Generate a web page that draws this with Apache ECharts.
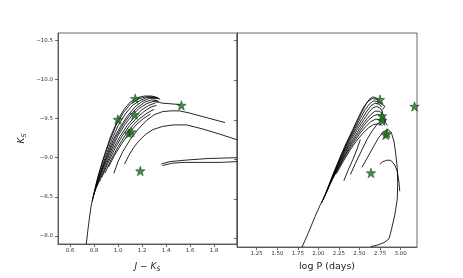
<!DOCTYPE html>
<html>
<head>
<meta charset="utf-8">
<script src="https://cdn.jsdelivr.net/npm/echarts@6/dist/echarts.min.js"></script>
<style>
html,body{margin:0;padding:0;background:#fff;}
#chart{width:463px;height:278px;}
</style>
</head>
<body>
<div id="chart"></div>
<script>
// ---- Data: evolutionary tracks in colour (J-Ks vs Ks) ----
const colourTracks = [
  [[0.735,-7.89],[0.755,-8.15],[0.775,-8.38],[0.80,-8.55],[0.84,-8.8],[0.89,-9.05],[0.94,-9.28],[1.00,-9.49],[1.05,-9.62],[1.10,-9.71],[1.16,-9.77],[1.22,-9.79],[1.28,-9.79],[1.33,-9.77]],
  [[0.785,-8.44],[0.825,-8.71],[0.875,-8.97],[0.93,-9.21],[0.985,-9.42],[1.045,-9.58],[1.105,-9.69],[1.165,-9.75],[1.23,-9.78],[1.29,-9.78],[1.34,-9.76]],
  [[0.79,-8.48],[0.835,-8.73],[0.89,-8.99],[0.945,-9.22],[1.0,-9.41],[1.06,-9.56],[1.12,-9.67],[1.18,-9.73],[1.24,-9.77],[1.30,-9.77],[1.35,-9.75]],
  [[0.80,-8.53],[0.85,-8.78],[0.905,-9.02],[0.96,-9.23],[1.02,-9.4],[1.08,-9.54],[1.14,-9.65],[1.20,-9.72],[1.26,-9.76],[1.32,-9.76]],
  [[0.81,-8.58],[0.86,-8.82],[0.92,-9.05],[0.98,-9.26],[1.04,-9.42],[1.10,-9.55],[1.16,-9.64],[1.22,-9.71],[1.28,-9.74],[1.33,-9.73]],
  [[0.825,-8.63],[0.875,-8.85],[0.935,-9.07],[0.995,-9.27],[1.055,-9.42],[1.115,-9.54],[1.175,-9.63],[1.235,-9.69],[1.29,-9.72],[1.34,-9.71]],
  [[0.845,-8.69],[0.895,-8.89],[0.955,-9.1],[1.015,-9.27],[1.075,-9.41],[1.135,-9.52],[1.195,-9.61],[1.255,-9.67],[1.31,-9.7]],
  [[0.865,-8.75],[0.915,-8.93],[0.975,-9.12],[1.035,-9.28],[1.095,-9.41],[1.155,-9.51],[1.215,-9.59],[1.275,-9.65],[1.32,-9.67]],
  [[0.89,-8.8],[0.94,-8.97],[1.0,-9.14],[1.06,-9.29],[1.12,-9.41],[1.18,-9.5],[1.24,-9.57],[1.30,-9.62]],
  [[0.92,-8.88],[0.97,-9.03],[1.03,-9.18],[1.09,-9.31],[1.15,-9.42],[1.21,-9.5],[1.27,-9.56]],
  [[1.30,-9.74],[1.36,-9.70],[1.44,-9.69],[1.52,-9.68]],
  [[0.965,-8.80],[1.0,-8.95],[1.04,-9.08],[1.10,-9.23],[1.17,-9.37],[1.24,-9.48],[1.30,-9.55],[1.37,-9.59],[1.44,-9.60],[1.51,-9.60],[1.60,-9.57],[1.72,-9.52],[1.89,-9.45]],
  [[1.054,-8.92],[1.09,-9.03],[1.13,-9.13],[1.17,-9.21],[1.23,-9.30],[1.29,-9.36],[1.37,-9.40],[1.46,-9.42],[1.57,-9.42],[1.70,-9.37],[1.85,-9.30],[1.99,-9.23]],
  [[1.36,-8.92],[1.43,-8.95],[1.57,-8.97],[1.75,-8.99],[1.99,-9.0]],
  [[1.37,-8.90],[1.45,-8.93],[1.55,-8.94],[1.70,-8.94],[1.85,-8.94],[1.99,-8.95]]
];
// ---- Data: evolutionary tracks in period (log P vs Ks) ----
const periodTracks = [
  [[1.80,-7.89],[1.88,-8.08],[1.96,-8.28],[2.02,-8.42],[2.08,-8.55],[2.15,-8.72],[2.22,-8.9],[2.30,-9.1],[2.38,-9.28],[2.46,-9.45],[2.53,-9.6],[2.58,-9.7],[2.62,-9.76],[2.66,-9.79],[2.70,-9.78],[2.74,-9.75]],
  [[2.04,-8.45],[2.11,-8.63],[2.18,-8.82],[2.26,-9.02],[2.34,-9.21],[2.42,-9.38],[2.49,-9.54],[2.55,-9.66],[2.60,-9.73],[2.655,-9.77],[2.71,-9.76],[2.75,-9.72],[2.78,-9.69]],
  [[2.06,-8.49],[2.13,-8.67],[2.20,-8.85],[2.28,-9.04],[2.36,-9.22],[2.44,-9.38],[2.51,-9.52],[2.57,-9.63],[2.62,-9.70],[2.67,-9.74],[2.72,-9.73],[2.77,-9.7],[2.81,-9.67],[2.78,-9.63]],
  [[2.08,-8.54],[2.15,-8.71],[2.22,-8.89],[2.30,-9.07],[2.38,-9.24],[2.46,-9.39],[2.53,-9.51],[2.59,-9.61],[2.64,-9.68],[2.69,-9.71],[2.74,-9.70],[2.77,-9.66]],
  [[2.10,-8.59],[2.17,-8.75],[2.24,-8.92],[2.32,-9.09],[2.40,-9.25],[2.48,-9.39],[2.55,-9.5],[2.61,-9.59],[2.66,-9.65],[2.71,-9.67],[2.76,-9.64],[2.78,-9.6],[2.76,-9.55]],
  [[2.12,-8.65],[2.19,-8.8],[2.27,-8.97],[2.35,-9.13],[2.43,-9.27],[2.51,-9.4],[2.58,-9.5],[2.64,-9.57],[2.69,-9.61],[2.74,-9.61],[2.79,-9.57],[2.82,-9.5],[2.80,-9.45]],
  [[2.15,-8.71],[2.22,-8.85],[2.30,-9.01],[2.38,-9.16],[2.46,-9.29],[2.54,-9.41],[2.61,-9.5],[2.67,-9.55],[2.72,-9.57],[2.77,-9.55],[2.80,-9.5]],
  [[2.18,-8.77],[2.26,-8.92],[2.34,-9.07],[2.42,-9.2],[2.50,-9.32],[2.57,-9.41],[2.64,-9.48],[2.70,-9.51],[2.75,-9.5],[2.79,-9.46]],
  [[2.22,-8.82],[2.30,-8.97],[2.38,-9.11],[2.46,-9.23],[2.54,-9.33],[2.61,-9.4],[2.67,-9.44],[2.73,-9.45],[2.78,-9.43]],
  [[2.31,-8.73],[2.36,-8.86],[2.42,-9.0],[2.47,-9.13],[2.51,-9.25]],
  [[2.39,-8.81],[2.45,-8.95],[2.52,-9.1],[2.59,-9.25],[2.66,-9.37],[2.72,-9.45],[2.77,-9.49],[2.81,-9.48],[2.84,-9.43]],
  [[2.53,-8.90],[2.60,-9.03],[2.67,-9.16],[2.73,-9.27],[2.79,-9.35],[2.85,-9.38],[2.89,-9.33],[2.92,-9.23],[2.94,-9.08],[2.96,-8.9],[2.965,-8.7],[2.96,-8.5],[2.93,-8.3],[2.89,-8.12],[2.86,-8.0],[2.80,-7.95],[2.72,-7.92],[2.64,-7.90]],
  [[2.75,-8.94],[2.78,-8.97],[2.83,-8.99],[2.88,-8.99],[2.93,-8.93],[2.96,-8.85],[2.98,-8.72],[2.99,-8.60]]
];
// ---- Data: observed stars ----
const starsColour = [[1.143,-9.756],[0.998,-9.49],[1.137,-9.55],[1.09,-9.31],[1.11,-9.33],[1.527,-9.67],[1.185,-8.83]];
const starsPeriod = [[2.75,-9.756],[2.775,-9.49],[2.775,-9.55],[2.82,-9.31],[2.835,-9.33],[3.17,-9.67],[2.64,-8.83]];
// ---- Tick labels ----
const yTicks = [-10.5,-10.0,-9.5,-9.0,-8.5,-8.0];
const xTicksColour = [0.6,0.8,1.0,1.2,1.4,1.6,1.8];
const xTicksPeriod = [1.25,1.50,1.75,2.00,2.25,2.50,2.75,3.00];

const chart = echarts.init(document.getElementById('chart'), null, {renderer:'canvas'});
const tickFont = {fontFamily:'DejaVu Sans', fontSize:5.5, color:'#333'};
const axisLine = {show:true, lineStyle:{color:'#444', width:0.8}};
const tickStyle = {lineStyle:{color:'#444', width:0.8}};
const fmtY = v => (v < 0 ? '\u2212' : '') + Math.abs(v).toFixed(1);

const series = [];
colourTracks.forEach(t => series.push({type:'line', xAxisIndex:0, yAxisIndex:0, data:t, showSymbol:false, symbol:'none', lineStyle:{color:'#000', width:0.85}, silent:true}));
periodTracks.forEach(t => series.push({type:'line', xAxisIndex:1, yAxisIndex:1, data:t, showSymbol:false, symbol:'none', lineStyle:{color:'#000', width:0.85}, silent:true}));
const starSym = 'path://M0,-10 L2.35,-3.24 L9.51,-3.09 L3.8,1.24 L5.88,8.09 L0,4 L-5.88,8.09 L-3.8,1.24 L-9.51,-3.09 L-2.35,-3.24 Z';
const starStyle = {color:'#137513', borderColor:'#143014', borderWidth:0.6};
series.push({type:'scatter', xAxisIndex:0, yAxisIndex:0, data:starsColour, symbol:starSym, symbolSize:9.5, itemStyle:starStyle, z:5});
series.push({type:'scatter', xAxisIndex:1, yAxisIndex:1, data:starsPeriod, symbol:starSym, symbolSize:9.5, itemStyle:starStyle, z:5, clip:false});

chart.setOption({
  animation:false,
  backgroundColor:'#fff',
  grid:[
    {left:58, top:33, width:179, height:214, show:true, borderColor:'#444', borderWidth:0.8, containLabel:false},
    {left:237, top:33, width:180, height:214, show:true, borderColor:'#444', borderWidth:0.8, containLabel:false}
  ],
  xAxis:[
    {type:'value', gridIndex:0, min:0.5, max:1.99, axisLine:axisLine, splitLine:{show:false},
     axisTick:{show:true, length:3, customValues:xTicksColour, ...tickStyle},
     axisLabel:{customValues:xTicksColour, formatter:v=>v.toFixed(1), margin:4, ...tickFont},
     name:'{it|J} \u2212 {it|K}{sub|S}', nameLocation:'middle', nameGap:17,
     nameTextStyle:{fontFamily:'DejaVu Sans', fontSize:9, color:'#222',
       rich:{it:{fontStyle:'italic', fontSize:9, fontFamily:'DejaVu Sans', color:'#222'},
             sub:{fontStyle:'italic', fontSize:6.5, fontFamily:'DejaVu Sans', color:'#222', padding:[5,0,0,0]}}}},
    {type:'value', gridIndex:1, min:1.01, max:3.20, axisLine:axisLine, splitLine:{show:false},
     axisTick:{show:true, length:3, customValues:xTicksPeriod, ...tickStyle},
     axisLabel:{customValues:xTicksPeriod, formatter:v=>v.toFixed(2), margin:4, ...tickFont},
     name:'log P (days)', nameLocation:'middle', nameGap:14,
     nameTextStyle:{fontFamily:'DejaVu Sans', fontSize:9.5, color:'#222'}}
  ],
  yAxis:[
    {type:'value', gridIndex:0, inverse:true, min:-10.597, max:-7.895, axisLine:axisLine, splitLine:{show:false},
     axisTick:{show:true, length:3, customValues:yTicks, ...tickStyle},
     axisLabel:{customValues:yTicks, formatter:fmtY, margin:5, ...tickFont},
     name:'{it|K}{sub|S}', nameLocation:'middle', nameGap:30,
     nameTextStyle:{fontFamily:'DejaVu Sans', fontSize:9, color:'#222',
       rich:{it:{fontStyle:'italic', fontSize:9, fontFamily:'DejaVu Sans', color:'#222'},
             sub:{fontStyle:'italic', fontSize:6.5, fontFamily:'DejaVu Sans', color:'#222', padding:[5,0,0,0]}}}},
    {type:'value', gridIndex:1, inverse:true, min:-10.597, max:-7.895, axisLine:axisLine, splitLine:{show:false},
     axisTick:{show:true, length:3, customValues:yTicks, ...tickStyle},
     axisLabel:{show:false}}
  ],
  series:series
});
</script>
</body>
</html>
